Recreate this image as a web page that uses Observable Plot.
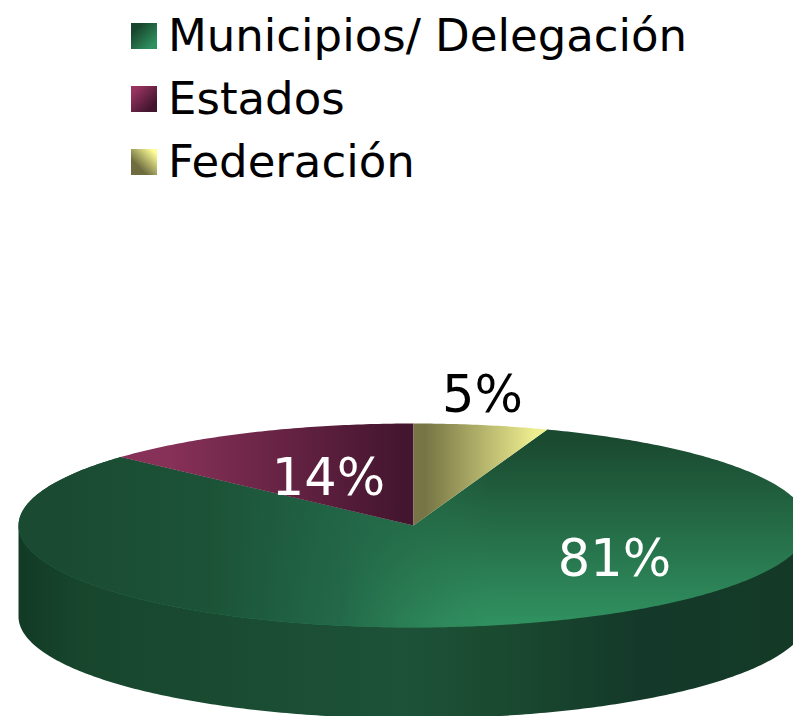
<!DOCTYPE html>
<html lang="es">
<head>
<meta charset="utf-8">
<script src="https://cdn.jsdelivr.net/npm/d3@7"></script>
<script src="https://cdn.jsdelivr.net/npm/@observablehq/plot@0.6"></script>
<style>
  html, body { margin: 0; padding: 0; background: #fff; overflow: hidden; }
  #chart { width: 793px; height: 716px; font-family: "DejaVu Sans", sans-serif; }
  #legend { height: 186px; padding: 4px 0 0 131px; box-sizing: content-box; }
  .row { display: flex; align-items: center; height: 63px; font-size: 45px; color: #000; white-space: nowrap; }
  .sw { width: 26px; height: 26px; margin-right: 11px; flex: none; }
  svg { display: block; }
</style>
</head>
<body>
<div id="chart"><div id="legend"></div></div>
<script>
// Data
const categories = ["Municipios/ Delegación", "Estados", "Federación"];
const shares = [81.2, 13.3, 5.5];          // slice sizes as drawn
const percentLabels = ["81%", "14%", "5%"]; // printed labels

// Styling
const labelColors = ["#fff", "#fff", "#000"];
const swatchCss = [
  "linear-gradient(135deg,#17452d 20%,#30905f 85%)",
  "linear-gradient(135deg,#96335f 15%,#43152e 80%)",
  "linear-gradient(45deg,#6f6d3f 30%,#ffff99 90%)"
];

// Layout of the tilted disc, in pixels of the page
const W = 793, H = 716, legendH = 190;
const cx = 413, cy = 525, rx = 395, ry = 102, depth = 91;
const height = H - legendH;
const labelOffsets = [[201, 34], [-85, -47], [69, -130]]; // label centres relative to the disc centre

// Unit-ellipse coordinates: angle t runs clockwise from the back of the disc
const rim = (t, drop = 0) => ({u: Math.sin(t), v: Math.cos(t) - drop / ry});
const TAU = 2 * Math.PI;
const total = d3.sum(shares);
const firstStart = shares[2] / total * TAU; // Federación starts at the back of the disc
let acc = firstStart;
const slices = categories.map((name, i) => {
  const a0 = acc, a1 = acc + shares[i] / total * TAU;
  acc = a1;
  const n = Math.max(2, Math.ceil((a1 - a0) * 90));
  const arc = d3.range(n + 1).map(k => rim(a0 + (a1 - a0) * k / n));
  return {name, a0, a1, pts: [{u: 0, v: 0}, ...arc]};
});

// Outer wall: the front half of the rim, upper edge hidden under the top face, then bottom edge
const wallN = 240;
const wallTop = d3.range(wallN + 1).map(k => rim(Math.PI / 2 + Math.PI * k / wallN, -2));
const wallBottom = d3.range(wallN + 1).map(k => rim(Math.PI * 3 / 2 - Math.PI * k / wallN, depth));
const wall = [...wallTop, ...wallBottom];

const labelRows = percentLabels.map((text, i) => ({
  text, color: labelColors[i],
  u: labelOffsets[i][0] / rx, v: -labelOffsets[i][1] / ry
}));

// Legend
d3.select("#legend").selectAll(".row").data(categories).join("div").attr("class", "row")
  .each(function (name, i) {
    const row = d3.select(this);
    row.append("div").attr("class", "sw").style("background", swatchCss[i]);
    row.append("span").text(name);
  });

// Gradients
function gradient(defs, id, x1, y1, x2, y2, stops) {
  const g = defs.append("linearGradient").attr("id", id).attr("gradientUnits", "userSpaceOnUse")
    .attr("x1", x1).attr("y1", y1 - legendH).attr("x2", x2).attr("y2", y2 - legendH);
  for (const [o, c, a] of stops) {
    const s = g.append("stop").attr("offset", o).attr("stop-color", c);
    if (a != null) s.attr("stop-opacity", a);
  }
}
const defsMark = () => {
  const defs = d3.create("svg:defs");
  gradient(defs, "greenV", 0, 440, 0, 620, [[0, "#1a4a30"], [1, "#30905f"]]);
  gradient(defs, "greenH", 60, 0, 490, 0, [[0, "#1a4b32", 1], [0.35, "#1c5337", 1], [0.65, "#216446", 0.9], [1, "#2a7a52", 0]]);
  gradient(defs, "maroon", 170, 0, 405, 0, [[0, "#873058"], [1, "#43152e"]]);
  gradient(defs, "yellow", 425, 0, 535, 0, [[0, "#777545"], [1, "#eeee90"]]);
  gradient(defs, "wall", 18, 0, 793, 0, [
    [0, "#123a26"], [0.08, "#17462d"], [0.5, "#1d5238"], [0.62, "#1a4a30"], [0.8, "#14392a"], [1, "#143a27"]
  ]);
  return defs.node();
};

const slice = (i, fill) => Plot.line(slices[i].pts, {x: "u", y: "v", fill, stroke: "none", curve: "linear"});

const plot = Plot.plot({
  width: W, height,
  margin: 0,
  x: {domain: [-cx / rx, (W - cx) / rx], range: [0, W], axis: null},
  y: {domain: [(cy - H) / ry, (cy - legendH) / ry], range: [height, 0], axis: null},
  style: {background: "transparent", overflow: "hidden"},
  marks: [
    defsMark,
    Plot.line(wall, {x: "u", y: "v", fill: "url(#wall)", stroke: "none", curve: "linear"}),
    slice(0, "url(#greenV)"),
    slice(0, "url(#greenH)"),
    slice(1, "url(#maroon)"),
    slice(2, "url(#yellow)"),
    Plot.text(labelRows, {
      x: "u", y: "v", text: "text", fill: d => d.color,
      fontSize: 51, fontFamily: "DejaVu Sans, sans-serif", textAnchor: "middle", lineAnchor: "middle"
    })
  ]
});
document.getElementById("chart").appendChild(plot);
</script>
</body>
</html>
